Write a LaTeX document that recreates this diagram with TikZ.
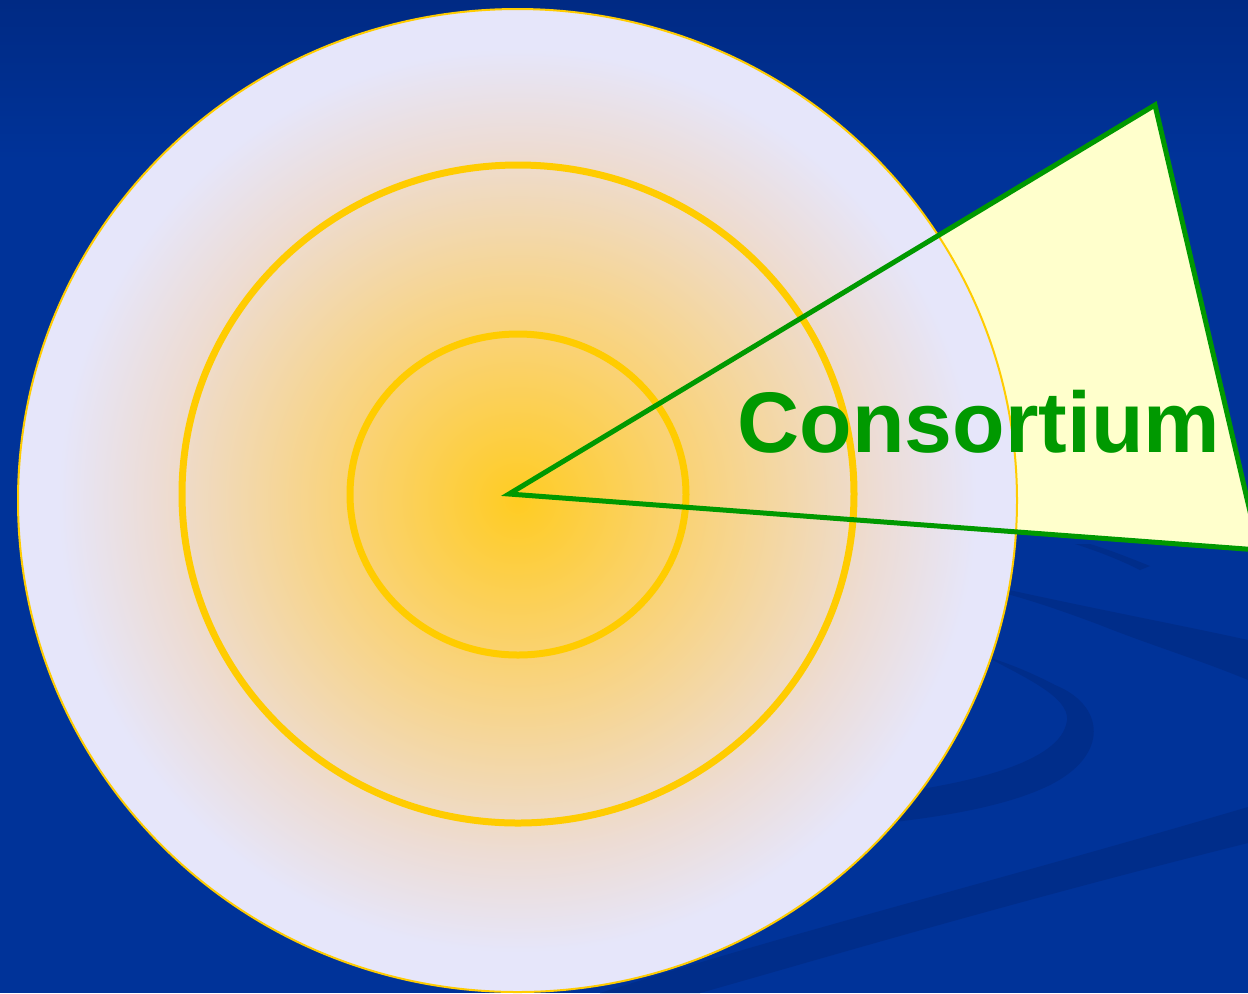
\documentclass[tikz,border=0pt]{standalone}
\usepackage{xcolor}
\usepackage{tikz}
\usepackage{fontspec}
\setmainfont{Liberation Sans}
\usetikzlibrary{positioning, calc, backgrounds}
\definecolor{bgtop}{HTML}{002A84}
\definecolor{bgmain}{HTML}{003399}
\definecolor{bgdark}{HTML}{002D8A}
\definecolor{ringgold}{HTML}{FFCC00}
\definecolor{coreyellow}{HTML}{FFCC22}
\definecolor{midpeach}{HTML}{F9D37C}
\definecolor{outerpeach}{HTML}{EDDCD4}
\definecolor{lavender}{HTML}{E6E6FA}
\definecolor{wedgefill}{HTML}{FFFFCC}
\definecolor{wedgegreen}{HTML}{009900}
\pgfdeclareradialshading{target}{\pgfpoint{0bp}{0bp}}{color(0bp)=(coreyellow); color(9bp)=(midpeach); color(18bp)=(outerpeach); color(23bp)=(lavender); color(50bp)=(lavender)}

\begin{document}
\begin{tikzpicture}[
    x=0.5pt, y=-0.5pt,
    ring/.style={draw=ringgold, line width=3.5pt},
    swoosh/.style={fill=bgdark},
    wedgeline/.style={draw=wedgegreen, line width=2.5pt, line join=miter},
]
\clip (0,0) rectangle (1248,993);
% background
\fill[bgmain] (0,0) rectangle (1248,993);
\shade[top color=bgtop, bottom color=bgmain] (0,0) rectangle (1248,160);

% swooshes
\fill[swoosh] (600,993) .. controls (800,930) and (1000,880) .. (1248,807) -- (1248,843) .. controls (1000,905) and (800,965) .. (700,993) -- cycle;
\fill[swoosh] (800,830) .. controls (880,825) and (990,815) .. (1050,785) .. controls (1110,755) and (1105,705) .. (1055,685) .. controls (1030,672) and (1010,664) .. (985,656) .. controls (1030,680) and (1075,700) .. (1066,725) .. controls (1055,765) and (960,785) .. (880,795) -- (800,805) -- cycle;
\fill[swoosh] (1000,588) .. controls (1100,610) and (1180,625) .. (1248,640) -- (1248,680) .. controls (1200,660) and (1150,645) .. (1100,625) .. controls (1060,610) and (1030,600) .. (1000,592) -- cycle;
\fill[swoosh] (1075,544) .. controls (1100,552) and (1120,560) .. (1140,570) -- (1150,566) .. controls (1130,558) and (1110,550) .. (1090,544) -- cycle;

% wedge
\coordinate (apex) at (509,494);
\coordinate (tip) at (1155,105);
\coordinate (far) at (1259,550);
\fill[wedgefill] (apex) -- (tip) -- (far) -- cycle;

% target
\shade[shading=target, draw=ringgold, line width=1pt] (517.5,500.5) ellipse [x radius=499.5, y radius=491.5];
\draw[ring] (518,494) ellipse [x radius=336, y radius=329];
\draw[ring] (518,494.5) ellipse [x radius=168, y radius=160.5];

\draw[wedgeline] (far) -- (apex) -- (tip) -- (far);

\node[anchor=base, text=wedgegreen, font=\fontsize{43pt}{50pt}\selectfont\bfseries, inner sep=0pt] (consortium) at (979,452) {Consortium};
\end{tikzpicture}
\end{document}
